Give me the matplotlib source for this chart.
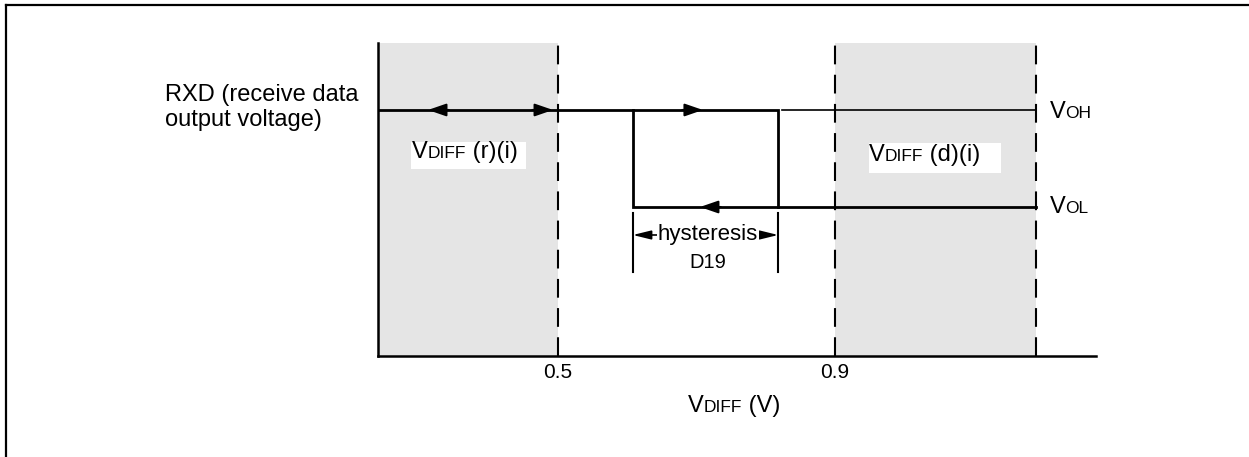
import matplotlib
matplotlib.use('Agg')
import matplotlib.pyplot as plt
from matplotlib.patches import Rectangle
from matplotlib.lines import Line2D

plt.rcParams['font.family'] = ['Liberation Sans', 'DejaVu Sans']

# thresholds / schematic values (V on x, normalised output level on y)
x_start = 0.24
x_end = 1.19
x_axis_end = 1.277
thresholds = [0.5, 0.9]
tick_labels = ['0.5', '0.9']
hyst_lo, hyst_hi = 0.608, 0.818
v_oh, v_ol = 0.786, 0.476

BIG, SMALL = 17, 12.5

fig = plt.figure(figsize=(12.49, 4.57), dpi=100)
ax = fig.add_axes([378 / 1249, 101 / 457, 718 / 1249, 313 / 457])
ax.set_xlim(x_start, x_axis_end)
ax.set_ylim(0, 1)
for s in ['top', 'right']:
    ax.spines[s].set_visible(False)
for s in ['left', 'bottom']:
    ax.spines[s].set_linewidth(1.8)
ax.set_yticks([])
ax.set_xticks(thresholds)
ax.set_xticklabels(tick_labels, fontsize=15)
ax.tick_params(axis='x', length=0, pad=5)

# shaded input ranges
ax.axvspan(x_start, thresholds[0], color='#e5e5e5', lw=0, zorder=0)
ax.axvspan(thresholds[1], x_end, color='#e5e5e5', lw=0, zorder=0)
for xv in [thresholds[0], thresholds[1], x_end]:
    ax.plot([xv, xv], [0, 1], color='black', lw=1.5, dashes=(9, 5), zorder=1)

# transfer characteristic
ax.plot([x_start, hyst_hi, hyst_hi], [v_oh, v_oh, v_ol], color='black', lw=2,
        solid_joinstyle='miter', zorder=3)
ax.plot([hyst_lo, hyst_lo, x_end], [v_oh, v_ol, v_ol], color='black', lw=2,
        solid_joinstyle='miter', zorder=3)
ax.plot([hyst_hi + 0.005, x_end], [v_oh, v_oh], color='black', lw=1.2, zorder=3)


def head(tip, y, direction, hl=1.1, hw=0.38):
    tail = tip - direction * 0.03
    ax.annotate('', xy=(tip, y), xytext=(tail, y),
                arrowprops=dict(arrowstyle='-|>,head_length=%s,head_width=%s' % (hl, hw),
                                color='black', lw=1.5, shrinkA=0, shrinkB=0,
                                mutation_scale=10), zorder=4)


head(0.3122, v_oh, -1)
head(0.4928, v_oh, 1)
head(0.7093, v_oh, 1)
head(0.705, v_ol, -1)

# hysteresis marker
y_top, y_bot, y_arr = 0.457, 0.268, 0.3866
for xv in [hyst_lo, hyst_hi]:
    ax.plot([xv, xv], [y_bot, y_top], color='black', lw=1.5)
ax.annotate('', xy=(hyst_lo, y_arr), xytext=(hyst_hi, y_arr),
            arrowprops=dict(arrowstyle='<|-|>,head_length=1.1,head_width=0.27',
                            color='black', lw=1.2, shrinkA=0, shrinkB=0,
                            mutation_scale=10))
ax.text(0.7165, y_arr, 'hysteresis', fontsize=16, ha='center', va='center',
        bbox=dict(facecolor='white', edgecolor='none', pad=0.5), zorder=5)
ax.text(0.7165, 0.281, 'D19', fontsize=14.5, ha='center', va='baseline')


def rich(x, y, parts, zorder=6):
    t = ax.text(x, y, parts[0][0], fontsize=parts[0][1], va='baseline', ha='left',
                zorder=zorder)
    for s, fs in parts[1:]:
        t = ax.annotate(s, xy=(1, y), xycoords=(t, 'data'), fontsize=fs,
                        va='baseline', ha='left', annotation_clip=False, zorder=zorder)
    return t


# label boxes
ax.add_patch(Rectangle((0.2877, 0.5974), 0.1661, 0.0863, facecolor='white',
                       edgecolor='none', zorder=5))
ax.add_patch(Rectangle((0.949, 0.5847), 0.1907, 0.0958, facecolor='white',
                       edgecolor='none', zorder=5))
rich(0.289, 0.6336, [('V', BIG), ('DIFF', SMALL), (' (r)(i)', BIG)])
rich(0.949, 0.623, [('V', BIG), ('DIFF', SMALL), (' (d)(i)', BIG)])
rich(1.210, 0.760, [('V', BIG), ('OH', SMALL)])
rich(1.210, 0.457, [('V', BIG), ('OL', SMALL)])
rich(0.6877, -0.179, [('V', BIG), ('DIFF', SMALL), (' (V)', BIG)])

fig.text(165 / 1249, 1 - 84 / 457, 'RXD (receive data\noutput voltage)',
         fontsize=17, ha='left', va='top', linespacing=1.2)

# outer frame
fig.add_artist(Line2D([6 / 1249, 1], [1 - 5 / 457, 1 - 5 / 457],
                      transform=fig.transFigure, color='black', lw=1.6))
fig.add_artist(Line2D([6 / 1249, 6 / 1249], [0, 1 - 5 / 457],
                      transform=fig.transFigure, color='black', lw=1.6))

fig.savefig('out.png', dpi=100)
